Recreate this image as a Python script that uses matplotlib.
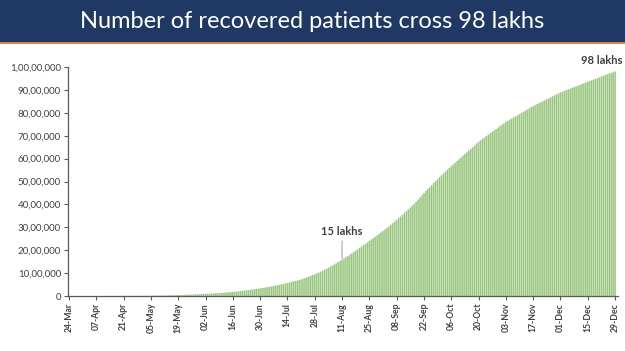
import matplotlib.pyplot as plt
import matplotlib.patches as patches
import numpy as np
import datetime as dt

plt.rcParams.update({
    'font.family': ['Lato', 'DejaVu Sans'],
    'axes.edgecolor': '#595959',
    'figure.facecolor': 'white',
})

# cumulative recovered patients, in thousands, one value per day
mar = [0.04, 0.04, 0.05, 0.07, 0.09, 0.10, 0.12, 0.14]
apr = [0.15, 0.17, 0.19, 0.27, 0.33, 0.35, 0.41, 0.47, 0.56, 0.76,
       0.89, 1.04, 1.19, 1.36, 1.51, 1.75, 1.99, 2.23, 2.55, 2.85,
       3.25, 3.87, 4.26, 4.81, 5.06, 5.80, 6.18, 7.03, 7.70, 8.37]
may = [9.1, 10.0, 10.6, 11.8, 12.7, 14.2, 15.3, 16.5, 17.9, 20.0,
       22.5, 24.4, 27.0, 28.9, 30.8, 34.1, 36.8, 39.2, 42.3, 45.3,
       48.5, 51.8, 54.4, 57.7, 60.5, 64.3, 67.7, 71.1, 73.6, 82.4, 86.9]
jun = [91.8, 95.5, 100.3, 104.1, 108.5, 114.1, 118.7, 124.1, 129.2, 135.2,
       141.0, 147.2, 154.3, 162.4, 169.8, 180.0, 186.9, 194.3, 204.7, 213.8,
       227.8, 237.2, 248.2, 258.7, 271.7, 285.6, 295.9, 309.7, 321.7, 334.8]
jul = [347.9, 359.9, 379.9, 394.2, 409.1, 424.4, 439.9, 456.8, 476.4, 495.5,
       515.4, 534.6, 553.5, 571.5, 592.0, 612.8, 635.8, 653.8, 677.4, 700.1,
       724.6, 753.0, 782.6, 817.2, 849.4, 885.6, 917.6, 945.5, 988.0, 1019.7, 1057.8]
aug = [1094.4, 1145.6, 1186.2, 1230.5, 1282.2, 1328.3, 1378.1, 1427.0, 1480.9, 1535.7,
       1583.5, 1639.6, 1695.9, 1751.5, 1808.9, 1862.3, 1919.8, 1977.8, 2037.9, 2096.7,
       2158.9, 2222.6, 2280.6, 2338.0, 2404.6, 2467.8, 2523.8, 2583.9, 2648.9, 2713.9, 2774.8]
sep = [2839.9, 2901.9, 2970.5, 3037.2, 3107.2, 3180.9, 3250.4, 3323.9, 3398.8, 3471.8,
       3542.6, 3624.2, 3702.6, 3780.1, 3859.4, 3942.4, 4025.1, 4112.5, 4208.4, 4303.1,
       4396.4, 4497.9, 4587.6, 4674.3, 4756.2, 4841.4, 4941.6, 5016.5, 5101.4, 5187.8]
oct = [5273.2, 5352.1, 5427.7, 5509.0, 5586.1, 5662.5, 5736.4, 5815.2, 5894.1, 5972.3,
       6049.4, 6131.1, 6202.3, 6275.0, 6350.2, 6424.1, 6496.4, 6566.2, 6660.1, 6733.3,
       6795.1, 6857.6, 6919.0, 6981.4, 7043.2, 7105.0, 7167.3, 7229.1, 7291.6, 7353.2, 7415.0]
nov = [7477.0, 7540.3, 7603.1, 7652.7, 7701.2, 7750.5, 7799.9, 7848.3, 7897.6, 7946.0,
       7995.8, 8044.1, 8093.4, 8142.7, 8191.0, 8240.3, 8290.4, 8333.0, 8376.2, 8419.5,
       8462.3, 8505.1, 8548.6, 8591.2, 8634.0, 8677.4, 8720.2, 8763.1, 8806.0, 8848.1]
dec = [8889.6, 8922.1, 8955.8, 8989.3, 9022.4, 9056.1, 9089.5, 9123.0, 9156.6, 9190.2,
       9223.3, 9257.0, 9290.8, 9324.1, 9357.4, 9389.2, 9421.0, 9453.5, 9485.1, 9517.0,
       9549.3, 9581.5, 9614.0, 9646.2, 9678.1, 9710.4, 9742.7, 9775.0, 9807.0]

recovered = np.array(mar + apr + may + jun + jul + aug + sep + oct + nov + dec) * 1000
start = dt.date(2020, 3, 24)
dates = [start + dt.timedelta(days=i) for i in range(len(recovered))]
tick_idx = list(range(0, len(recovered), 14))
tick_labels = [dates[i].strftime('%d-%b') for i in tick_idx]
y_ticks = [0, 1000000, 2000000, 3000000, 4000000, 5000000,
           6000000, 7000000, 8000000, 9000000, 10000000]


def indian_fmt(v):
    s = str(int(v))
    if len(s) <= 3:
        return s
    head, tail = s[:-3], s[-3:]
    parts = []
    while len(head) > 2:
        parts.insert(0, head[-2:])
        head = head[:-2]
    if head:
        parts.insert(0, head)
    return ','.join(parts) + ',' + tail


fig = plt.figure(figsize=(6.25, 3.51), dpi=100)

# title banner
fig.patches.append(patches.Rectangle((0, 1 - 42 / 351), 1, 42 / 351, transform=fig.transFigure,
                                     facecolor='#1f3864', edgecolor='none', zorder=0))
fig.patches.append(patches.Rectangle((0, 1 - 44 / 351), 1, 2 / 351, transform=fig.transFigure,
                                     facecolor='#e0824a', edgecolor='none', zorder=0))
fig.text(0.5, 1 - 21 / 351, 'Number of recovered patients cross 98 lakhs',
         color='white', fontsize=17, ha='center', va='center')

ax = fig.add_axes([68 / 625, 55 / 351, 550 / 625, 229 / 351])
x = np.arange(len(recovered))
ax.bar(x, recovered, width=0.8, color='#98c67e', edgecolor='none', zorder=2,
       snap=False, antialiased=True)

ax.set_xlim(-0.5, len(recovered) + 0.5)
ax.set_ylim(0, 10000000)
ax.set_xticks(tick_idx)
ax.set_xticklabels(tick_labels, rotation=90, fontsize=6.2, fontweight='bold', color='#404040')
ax.set_yticks(y_ticks)
ax.set_yticklabels([indian_fmt(v) for v in y_ticks], fontsize=7, color='#404040')
ax.tick_params(axis='both', direction='out', length=3, width=0.8, color='#595959', pad=2)
for s in ['top', 'right']:
    ax.spines[s].set_visible(False)
ax.spines['left'].set_linewidth(0.9)
ax.spines['bottom'].set_linewidth(0.9)

# annotations
i15 = 140
ax.annotate('15 lakhs', xy=(i15, recovered[i15] + 50000), xytext=(i15, recovered[i15] + 1000000),
            ha='center', va='bottom', fontsize=8, fontweight='bold', color='#404040',
            arrowprops=dict(arrowstyle='-', color='#a6a6a6', lw=0.8, shrinkA=1, shrinkB=0))
ax.text(len(recovered) - 8, recovered[-1] + 220000, '98 lakhs', ha='center', va='bottom',
        fontsize=8, fontweight='bold', color='#404040', clip_on=False)

plt.savefig('out.png', dpi=100, facecolor='white')
